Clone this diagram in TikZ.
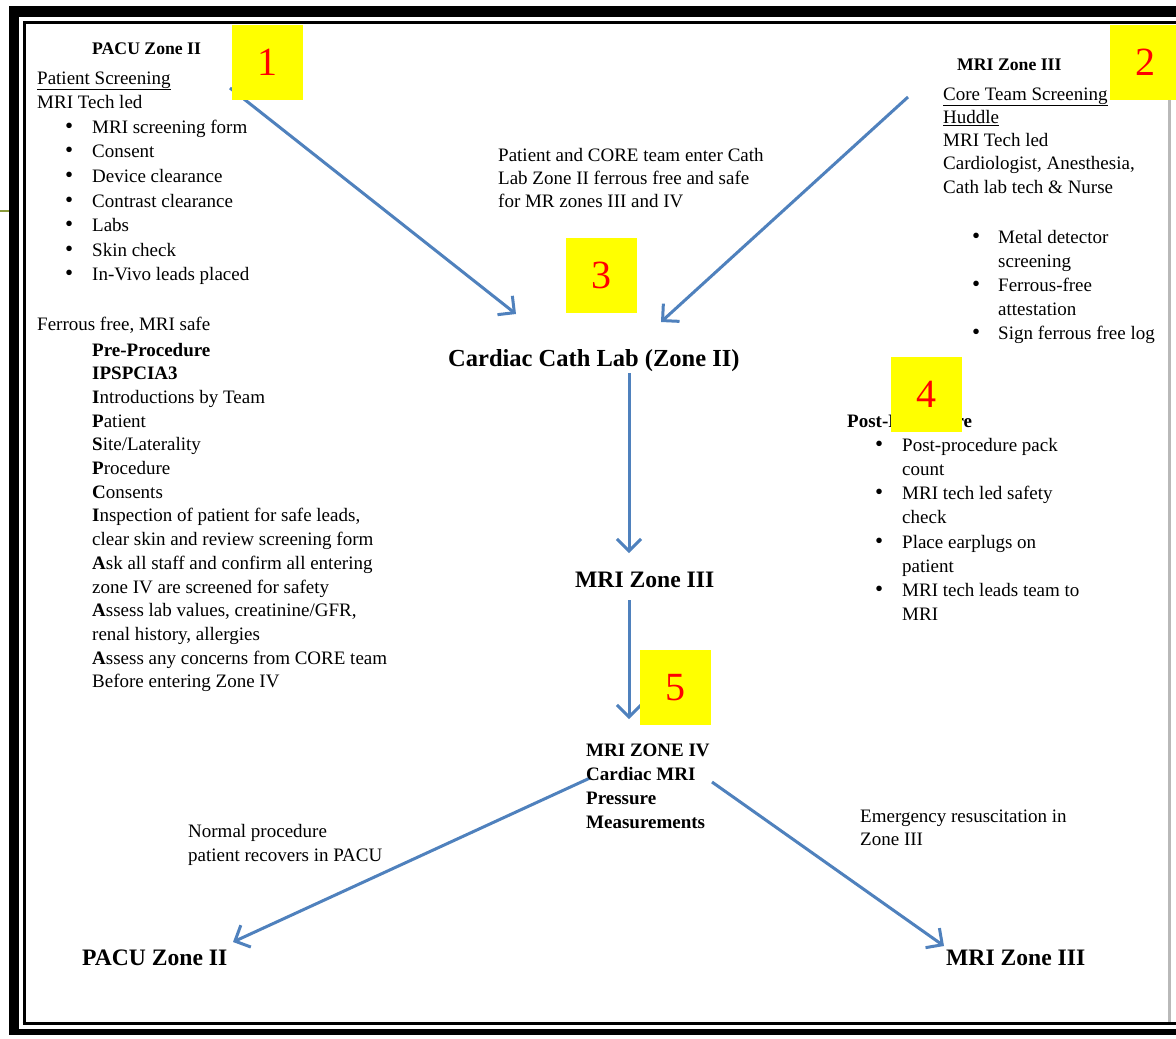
\documentclass[tikz,border=0pt]{standalone}
\usepackage{fontspec}
\setmainfont{Liberation Serif}
\usetikzlibrary{arrows.meta}
\definecolor{arrowblue}{HTML}{4F81BD}
\definecolor{framegreen}{HTML}{8A9A3B}
\definecolor{numyellow}{HTML}{FFFF00}
\definecolor{numred}{HTML}{FF0000}
\newcommand{\blk}[1]{\begin{tabular}[t]{@{}l@{}}#1\end{tabular}}
\newcommand{\bul}{{\fontsize{23}{0}\selectfont\textbullet}}
\begin{document}
\begin{tikzpicture}[x=1pt,y=-1pt,
  body/.style={anchor=base west, inner sep=0pt, font=\fontsize{19}{24.6}\selectfont},
  hdr/.style={anchor=base west, inner sep=0pt, font=\bfseries\fontsize{17.7}{24}\selectfont},
  big/.style={anchor=base west, inner sep=0pt, font=\bfseries\fontsize{23.6}{28}\selectfont},
  numbox/.style={fill=numyellow, text=numred, font=\fontsize{40}{40}\selectfont, inner sep=0pt, minimum width=71pt, minimum height=75pt, anchor=north west},
  flow/.style={draw=arrowblue, line width=3pt, -{Straight Barb[length=12pt,width=24pt,line width=3pt]}}
]
\path[use as bounding box] (0,0) rectangle (1176,1039);
\clip (0,0) rectangle (1176,1039);
\fill[white] (0,0) rectangle (1176,1039);
% frame
\draw[line width=11pt] (14,11.5) -- (1190,11.5);
\draw[line width=10pt] (14,6) -- (14,1034);
\draw[line width=6pt] (9,1031.5) -- (1190,1031.5);
\draw[line width=3pt] (24,22.5) -- (1190,22.5);
\draw[line width=3pt] (24,21) -- (24,1025);
\draw[line width=3pt] (22.5,1023.5) -- (1190,1023.5);
\draw[line width=3pt, gray!55] (1169,100) -- (1169,1022);
\draw[line width=2pt, framegreen] (0,211) -- (9,211);

% coordinates for arrows
\coordinate (a1s) at (230,88);
\coordinate (a1e) at (516,314);
\coordinate (a2s) at (908,97);
\coordinate (a2e) at (661,322);
\coordinate (a3s) at (629,373);
\coordinate (a3e) at (629,553);
\coordinate (a4s) at (629,600);
\coordinate (a4e) at (629,719);
\coordinate (a5s) at (590,778);
\coordinate (a5e) at (233,942);
\coordinate (a6s) at (712,782);
\coordinate (a6e) at (944,946);
\draw[flow] (a1s) -- (a1e);
\draw[flow] (a2s) -- (a2e);
\draw[flow] (a3s) -- (a3e);
\draw[flow] (a4s) -- (a4e);
\draw[flow] (a5s) -- (a5e);
\draw[flow] (a6s) -- (a6e);

% block 1
\node[hdr] (pacuTop) at (92,54) {PACU Zone II};
\node[body] (screen) at (37,84) {\begin{tabular}[t]{@{}p{28pt}@{}p{27pt}@{}l@{}}
\multicolumn{3}{@{}l@{}}{\underline{Patient Screening}}\\
\multicolumn{3}{@{}l@{}}{MRI Tech led}\\
 & \bul & MRI screening form\\
 & \bul & Consent\\
 & \bul & Device clearance\\
 & \bul & Contrast clearance\\
 & \bul & Labs\\
 & \bul & Skin check\\
 & \bul & In-Vivo leads placed\\
 & & \\
\multicolumn{3}{@{}l@{}}{Ferrous free, MRI safe}
\end{tabular}};
\node[body, font=\fontsize{19}{23.7}\selectfont] (pre) at (92,356) {\blk{%
\textbf{Pre-Procedure}\\
\textbf{IPSPCIA3}\\
\textbf{I}ntroductions by Team\\
\textbf{P}atient\\
\textbf{S}ite/Laterality\\
\textbf{P}rocedure\\
\textbf{C}onsents\\
\textbf{I}nspection of patient for safe leads,\\
clear skin and review screening form\\
\textbf{A}sk all staff and confirm all entering\\
zone IV are screened for safety\\
\textbf{A}ssess lab values, creatinine/GFR,\\
renal history, allergies\\
\textbf{A}ssess any concerns from CORE team\\
Before entering Zone IV}};

% center top
\node[body, font=\fontsize{19}{23}\selectfont] (enter) at (498,161) {\blk{%
Patient and CORE team enter Cath\\
Lab Zone II ferrous free and safe\\
for MR zones III and IV}};

% block 2
\node[hdr] (mriTop) at (957,70) {MRI Zone III};
\node[body, font=\fontsize{19}{23.3}\selectfont] (core) at (943,100) {\blk{%
\underline{Core Team Screening}\\
\underline{Huddle}\\
MRI Tech led\\
Cardiologist, Anesthesia,\\
Cath lab tech \& Nurse}};
\node[body, font=\fontsize{19}{24}\selectfont] (metal) at (972,243) {\begin{tabular}[t]{@{}p{26pt}@{}l@{}}
\bul & Metal detector\\
 & screening\\
\bul & Ferrous-free\\
 & attestation\\
\bul & Sign ferrous free log
\end{tabular}};

% main flow
\node[big, font=\bfseries\fontsize{24.5}{28}\selectfont] (cath) at (448,366) {Cardiac Cath Lab (Zone II)};
\node[big] (mri3) at (575,587) {MRI Zone III};
\node[hdr, font=\bfseries\fontsize{19}{24}\selectfont] (mri4) at (586,756) {\blk{%
MRI ZONE IV\\
Cardiac MRI\\
Pressure\\
Measurements}};

% post procedure
\node[body, font=\fontsize{19}{24.2}\selectfont] (post) at (847,427) {\begin{tabular}[t]{@{}p{28pt}@{}p{27pt}@{}l@{}}
\multicolumn{3}{@{}l@{}}{\textbf{Post-Procedure}}\\
 & \bul & Post-procedure pack\\
 & & count\\
 & \bul & MRI tech led safety\\
 & & check\\
 & \bul & Place earplugs on\\
 & & patient\\
 & \bul & MRI tech leads team to\\
 & & MRI
\end{tabular}};

% outcomes
\node[body, font=\fontsize{19}{24}\selectfont] (normal) at (188,837) {\blk{%
Normal procedure\\
patient recovers in PACU}};
\node[body, font=\fontsize{19}{23}\selectfont] (emerg) at (860,822) {\blk{%
Emergency resuscitation in\\
Zone III}};
\node[big] (pacuBot) at (82,965) {PACU Zone II};
\node[big] (mriBot) at (946,965) {MRI Zone III};

% numbered yellow boxes
\node[numbox] (n1) at (232,25) {1};
\node[numbox] (n2) at (1110,25) {2};
\node[numbox] (n3) at (566,238) {3};
\node[numbox] (n4) at (891,357) {4};
\node[numbox] (n5) at (640,650) {5};
\end{tikzpicture}
\end{document}
